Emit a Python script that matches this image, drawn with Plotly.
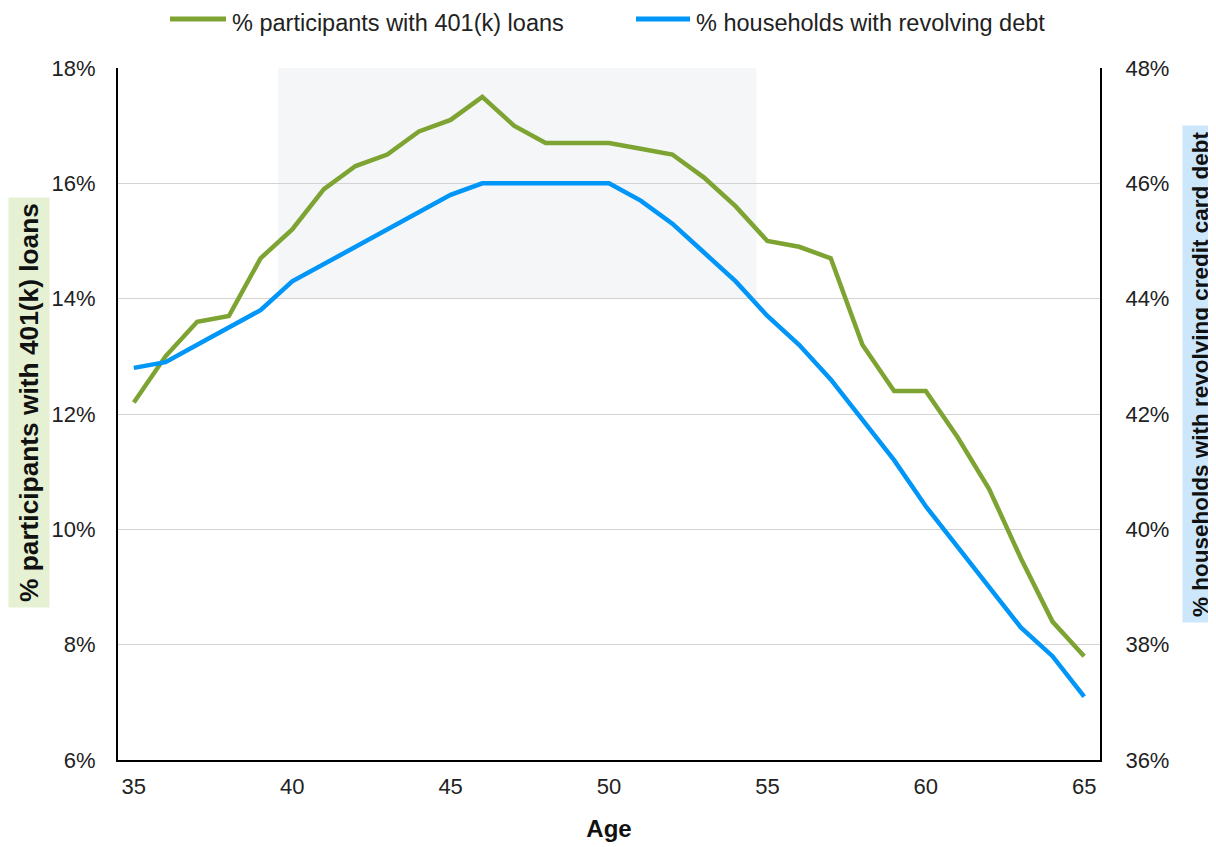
import plotly.graph_objects as go

ages = list(range(35, 66))
loans_pct = [12.2, 13.0, 13.6, 13.7, 14.7, 15.2, 15.9, 16.3, 16.5, 16.9, 17.1, 17.5,
             17.0, 16.7, 16.7, 16.7, 16.6, 16.5, 16.1, 15.6, 15.0, 14.9, 14.7, 13.2,
             12.4, 12.4, 11.6, 10.7, 9.5, 8.4, 7.8]
revolving_pct = [42.8, 42.9, 43.2, 43.5, 43.8, 44.3, 44.6, 44.9, 45.2, 45.5, 45.8, 46.0,
                 46.0, 46.0, 46.0, 46.0, 45.7, 45.3, 44.8, 44.3, 43.7, 43.2, 42.6, 41.9,
                 41.2, 40.4, 39.7, 39.0, 38.3, 37.8, 37.1]
left_ticks = [6, 8, 10, 12, 14, 16, 18]
right_ticks = [36, 38, 40, 42, 44, 46, 48]
x_ticks = [35, 40, 45, 50, 55, 60, 65]
shade_x = [39.55, 54.65]
shade_y = [14, 18]
series_names = ["% participants with 401(k) loans", "% households with revolving debt"]

FONT = "Liberation Sans"
GREEN = "#7da432"
BLUE = "#0096f8"
OFF = 8  # page body margin
W, H = 1216 - OFF, 847 - OFF
ML, MR, MT, MB = 118 - OFF, 116, 68 - OFF, 87
PW, PH = W - ML - MR, H - MT - MB


def px_x(p):
    """page pixel x -> paper coordinate"""
    return (p - OFF - ML) / PW


def px_y(p):
    """page pixel y -> paper coordinate"""
    return (H - MB - (p - OFF)) / PH


fig = go.Figure()
fig.add_trace(go.Scatter(x=ages, y=loans_pct, mode="lines", name=series_names[0],
                         line=dict(color=GREEN, width=4.5), yaxis="y"))
fig.add_trace(go.Scatter(x=ages, y=revolving_pct, mode="lines", name=series_names[1],
                         line=dict(color=BLUE, width=4.5), yaxis="y2"))

fig.add_shape(type="rect", xref="x", yref="y", x0=shade_x[0], x1=shade_x[1], y0=shade_y[0], y1=shade_y[1],
              fillcolor="#f4f6f8", line=dict(width=0), layer="below")

tickfont = dict(family=FONT, size=22, color="#222222")
fig.update_layout(
    width=W, height=H,
    margin=dict(l=ML, r=MR, t=MT, b=MB, autoexpand=False),
    plot_bgcolor="white", paper_bgcolor="white",
    font=dict(family=FONT, size=20, color="#222222"),
    showlegend=False,
    xaxis=dict(range=[34.5, 65.5], tickmode="array", tickvals=x_ticks, ticktext=[str(v) for v in x_ticks],
               showgrid=False, showline=True, linecolor="black", linewidth=2, ticks="",
               tickfont=tickfont, zeroline=False, ticklabelstandoff=6,
               title=dict(text="<b>Age</b>", font=dict(size=24, color="#111111"), standoff=22)),
    yaxis=dict(range=[6, 18], tickmode="array", tickvals=left_ticks, ticktext=[f"{v}%" for v in left_ticks],
               showgrid=True, gridcolor="#d3d3d3", gridwidth=1.2, showline=True, linecolor="black", linewidth=2,
               ticks="", tickfont=tickfont, zeroline=False, ticklabelstandoff=16),
    yaxis2=dict(range=[36, 48], tickmode="array", tickvals=right_ticks, ticktext=[f"{v}%" for v in right_ticks],
                overlaying="y", side="right", showgrid=False, showline=True, linecolor="black", linewidth=2,
                ticks="", tickfont=tickfont, zeroline=False, ticklabelstandoff=19),
)

# manual legend
legend_items = [(170, 226, 230, GREEN, series_names[0]), (636, 690, 694, BLUE, series_names[1])]
for x0, x1, tx, col, name in legend_items:
    fig.add_shape(type="line", xref="paper", yref="paper", x0=px_x(x0), x1=px_x(x1),
                  y0=px_y(19), y1=px_y(19), line=dict(color=col, width=5))
    fig.add_annotation(text=name, xref="paper", yref="paper", x=px_x(tx), y=px_y(8),
                       xanchor="left", yanchor="top", showarrow=False,
                       font=dict(size=23.5, color="#222222"))

# axis titles with coloured backgrounds
fig.add_annotation(text="<b>% participants with 401(k) loans</b>", xref="paper", yref="paper",
                   x=px_x(29), y=px_y(403), xanchor="center", yanchor="middle", textangle=-90,
                   showarrow=False, font=dict(size=26.3, color="#111111"), bgcolor="#e6f1d3",
                   borderpad=5)
fig.add_annotation(text="<b>% households with revolving credit card debt</b>", xref="paper", yref="paper",
                   x=px_x(1200), y=px_y(374), xanchor="center", yanchor="middle", textangle=-90,
                   showarrow=False, font=dict(size=22.5, color="#111111"), bgcolor="#cce7fb",
                   borderpad=5)

fig.write_html("out.html")
